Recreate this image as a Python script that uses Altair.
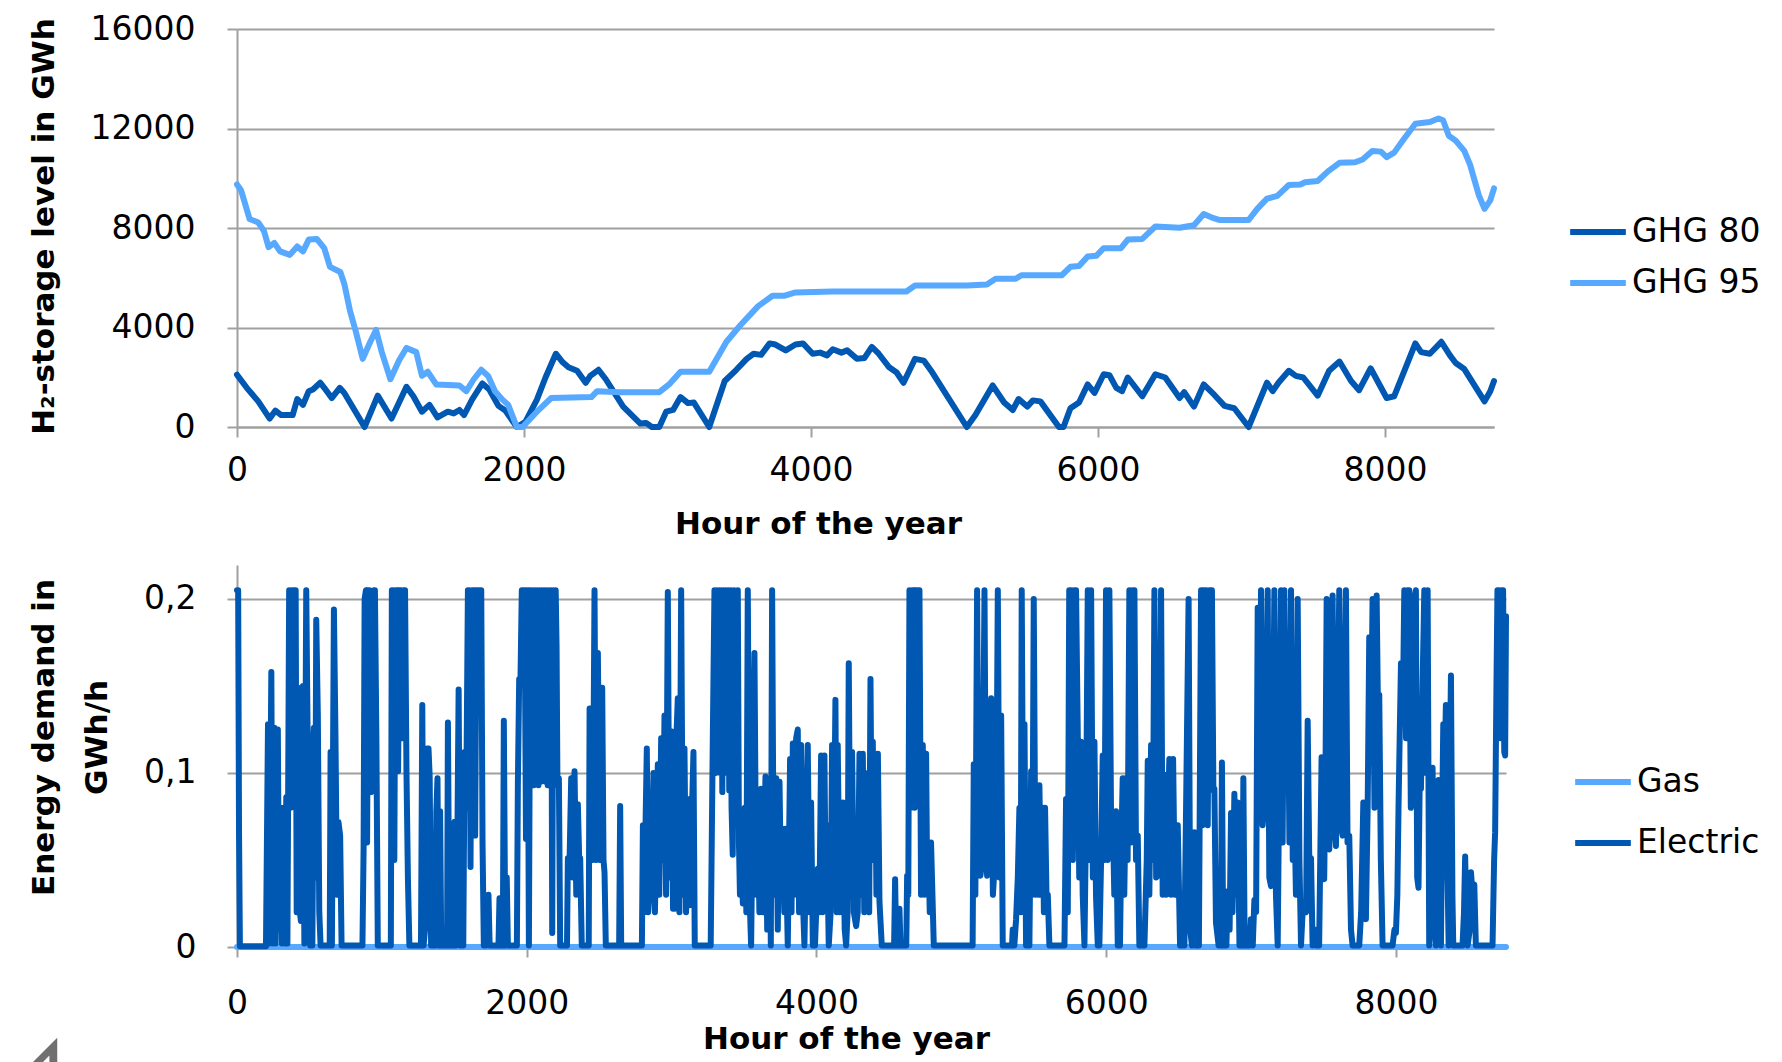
import altair as alt
import pandas as pd

# ---------------- data ----------------
x_ticks = [0, 2000, 4000, 6000, 8000]
top_y_ticks = [0, 4000, 8000, 12000, 16000]
bottom_y_ticks = [0, 0.1, 0.2]

top_series = ["GHG 80", "GHG 95"]
bottom_series = ["Gas", "Electric"]

ghg80_points = [
    (0, 2100), (68, 1575), (148, 1030), (228, 340), (268, 660), (308, 480), (388, 480),
    (420, 1125), (460, 890), (500, 1440), (529, 1510), (580, 1780), (608, 1575), (660, 1165),
    (716, 1575), (748, 1370), (889, 0), (981, 1260), (1077, 340), (1181, 1615), (1229, 1235),
    (1289, 616), (1341, 890), (1397, 384), (1469, 616), (1510, 548), (1550, 685), (1582, 480),
    (1638, 1100), (1710, 1750), (1758, 1510), (1822, 850), (1870, 660), (1950, 0), (2010, 205),
    (2090, 1100), (2150, 1990), (2222, 2945), (2270, 2600), (2310, 2400), (2370, 2260),
    (2430, 1780), (2462, 2055), (2519, 2300), (2570, 1920), (2691, 820), (2811, 137),
    (2851, 164), (2891, 0), (2943, 0), (2991, 616), (3039, 685), (3091, 1205), (3143, 960),
    (3183, 986), (3291, 0), (3399, 1850), (3480, 2300), (3552, 2740), (3600, 2945),
    (3652, 2900), (3712, 3360), (3752, 3315), (3824, 3080), (3892, 3315), (3944, 3360),
    (4012, 2945), (4064, 2990), (4112, 2880), (4152, 3125), (4212, 2990), (4252, 3080),
    (4320, 2740), (4372, 2770), (4424, 3220), (4472, 2945), (4545, 2400), (4597, 2190),
    (4645, 1780), (4685, 2260), (4725, 2740), (4786, 2670), (4846, 2190), (5086, 0),
    (5146, 480), (5266, 1670), (5346, 986), (5406, 685), (5447, 1125), (5507, 820),
    (5547, 1070), (5599, 1030), (5728, 0), (5760, 0), (5808, 755), (5868, 986), (5928, 1710),
    (5976, 1370), (6040, 2120), (6080, 2080), (6128, 1575), (6168, 1440), (6208, 1990),
    (6309, 1235), (6400, 2120), (6469, 1990), (6569, 1165), (6601, 1400), (6669, 820),
    (6737, 1710), (6810, 1300), (6882, 850), (6950, 755), (7050, 0), (7178, 1780),
    (7218, 1440), (7258, 1780), (7330, 2260), (7379, 2055), (7431, 1990), (7531, 1260),
    (7611, 2260), (7683, 2630), (7764, 1850), (7820, 1480), (7900, 2360), (8012, 1165),
    (8064, 1235), (8212, 3360), (8252, 3010), (8313, 2945), (8393, 3425), (8453, 2880),
    (8493, 2575), (8553, 2330), (8694, 1030), (8734, 1440), (8760, 1850),
]

ghg95_points = [
    (0, 9750), (28, 9520), (88, 8360), (148, 8220), (188, 7880), (220, 7230), (260, 7400),
    (300, 7060), (368, 6920), (420, 7260), (460, 7060), (500, 7535), (556, 7560), (608, 7190),
    (648, 6440), (720, 6230), (748, 5750), (788, 4660), (828, 3840), (876, 2740), (929, 3425),
    (969, 3900), (1009, 3010), (1069, 1920), (1129, 2670), (1181, 3180), (1249, 3010),
    (1289, 2055), (1329, 2220), (1389, 1710), (1550, 1670), (1598, 1440), (1650, 1920),
    (1702, 2300), (1750, 2055), (1798, 1440), (1850, 1100), (1890, 890), (1950, 0), (1990, 0),
    (2090, 616), (2190, 1165), (2470, 1205), (2510, 1440), (2670, 1400), (2943, 1400),
    (3011, 1710), (3091, 2220), (3291, 2220), (3411, 3425), (3511, 4110), (3632, 4860),
    (3732, 5275), (3812, 5275), (3892, 5410), (4152, 5450), (4665, 5450), (4725, 5690),
    (5086, 5690), (5226, 5730), (5287, 5960), (5427, 5960), (5467, 6100), (5748, 6100),
    (5808, 6440), (5868, 6470), (5928, 6850), (5988, 6880), (6040, 7190), (6160, 7190),
    (6208, 7535), (6309, 7560), (6400, 8060), (6569, 8010), (6669, 8110), (6737, 8560),
    (6790, 8430), (6850, 8320), (7050, 8320), (7110, 8770), (7178, 9180), (7250, 9290),
    (7330, 9730), (7411, 9750), (7443, 9840), (7531, 9890), (7603, 10275), (7683, 10620),
    (7792, 10645), (7844, 10755), (7912, 11100), (7972, 11070), (8012, 10850), (8064, 11030),
    (8132, 11580), (8212, 12190), (8313, 12260), (8373, 12400), (8405, 12330), (8445, 11710),
    (8493, 11510), (8553, 11100), (8593, 10550), (8654, 9320), (8694, 8770), (8734, 9110),
    (8760, 9590),
]

electric_points = [
    (0, 0.205), (8, 0.205), (14, 0.066), (20, 0.0004), (200, 0.0004), (214, 0.128), (222, 0.002),
    (237, 0.158), (246, 0.002), (258, 0.126), (266, 0.002), (282, 0.125), (290, 0.01), (300, 0.080),
    (310, 0.002), (325, 0.080), (333, 0.002), (340, 0.086), (348, 0.002), (360, 0.205), (370, 0.08),
    (382, 0.205), (395, 0.205), (405, 0.205), (412, 0.02), (421, 0.149), (432, 0.022), (441, 0.015),
    (455, 0.150), (465, 0.002), (478, 0.205), (487, 0.126), (497, 0.112), (505, 0.0009),
    (520, 0.0009), (531, 0.126), (540, 0.04), (547, 0.188), (558, 0.133), (568, 0.02),
    (577, 0.0009), (640, 0.0009), (646, 0.112), (655, 0.0009), (669, 0.194), (680, 0.119),
    (690, 0.03), (700, 0.072), (712, 0.064), (722, 0.0009), (866, 0.0009), (874, 0.057),
    (881, 0.200), (890, 0.205), (898, 0.06), (906, 0.205), (914, 0.205), (925, 0.089),
    (935, 0.12), (945, 0.205), (952, 0.205), (962, 0.122), (972, 0.0009), (1062, 0.0009),
    (1069, 0.205), (1078, 0.205), (1086, 0.05), (1094, 0.205), (1104, 0.205), (1112, 0.101),
    (1122, 0.205), (1134, 0.205), (1142, 0.12), (1150, 0.205), (1160, 0.205), (1170, 0.1),
    (1180, 0.039), (1190, 0.0009), (1270, 0.0009), (1279, 0.139), (1288, 0.0009), (1298, 0.01),
    (1312, 0.114), (1322, 0.114), (1330, 0.098), (1340, 0.0009), (1368, 0.0009), (1376, 0.078),
    (1384, 0.097), (1392, 0.0009), (1402, 0.078), (1410, 0.0009), (1450, 0.0009), (1456, 0.129),
    (1466, 0.0009), (1495, 0.0009), (1502, 0.072), (1510, 0.0009), (1520, 0.05), (1530, 0.148),
    (1540, 0.0009), (1562, 0.0009), (1571, 0.112), (1582, 0.080), (1594, 0.205), (1604, 0.205),
    (1612, 0.046), (1622, 0.205), (1634, 0.205), (1644, 0.064), (1654, 0.205), (1668, 0.205),
    (1686, 0.205), (1695, 0.059), (1704, 0.0009), (1712, 0.029), (1720, 0.0009), (1736, 0.030),
    (1744, 0.0009), (1805, 0.0009), (1812, 0.028), (1822, 0.0009), (1835, 0.0009), (1842, 0.130),
    (1852, 0.0009), (1862, 0.04), (1870, 0.0009), (1932, 0.0009), (1939, 0.095), (1948, 0.154),
    (1957, 0.154), (1966, 0.205), (1985, 0.205), (1995, 0.062), (2005, 0.205), (2015, 0.0009),
    (2025, 0.205), (2033, 0.095), (2041, 0.205), (2049, 0.093), (2057, 0.205), (2065, 0.1),
    (2073, 0.205), (2081, 0.093), (2089, 0.205), (2097, 0.095), (2105, 0.205), (2113, 0.1),
    (2121, 0.205), (2129, 0.095), (2137, 0.205), (2145, 0.093), (2153, 0.205), (2161, 0.1),
    (2169, 0.205), (2176, 0.008), (2184, 0.205), (2192, 0.1), (2200, 0.205), (2206, 0.173),
    (2212, 0.093), (2222, 0.097), (2231, 0.0009), (2278, 0.0009), (2284, 0.051), (2296, 0.051),
    (2307, 0.097), (2318, 0.04), (2330, 0.101), (2342, 0.03), (2353, 0.082), (2362, 0.051),
    (2369, 0.051), (2380, 0.0009), (2428, 0.0009), (2434, 0.137), (2445, 0.137), (2456, 0.05),
    (2468, 0.205), (2478, 0.05), (2491, 0.169), (2505, 0.05), (2521, 0.149), (2530, 0.05),
    (2537, 0.043), (2546, 0.0009), (2638, 0.0009), (2645, 0.081), (2652, 0.0009), (2795, 0.0009),
    (2802, 0.07), (2810, 0.02), (2829, 0.114), (2838, 0.02), (2848, 0.032), (2860, 0.03),
    (2875, 0.1), (2885, 0.02), (2905, 0.105), (2915, 0.03), (2928, 0.12), (2940, 0.05),
    (2951, 0.133), (2962, 0.03), (2974, 0.204), (2985, 0.04), (2997, 0.124), (3010, 0.022),
    (3020, 0.022), (3032, 0.118), (3043, 0.143), (3054, 0.02), (3066, 0.205), (3078, 0.03),
    (3089, 0.114), (3100, 0.02), (3112, 0.085), (3124, 0.024), (3151, 0.112), (3160, 0.0009),
    (3270, 0.0009), (3285, 0.124), (3296, 0.205), (3304, 0.1), (3312, 0.205), (3320, 0.12),
    (3328, 0.205), (3336, 0.1), (3344, 0.205), (3350, 0.089), (3358, 0.205), (3366, 0.11),
    (3374, 0.205), (3382, 0.1), (3390, 0.205), (3398, 0.09), (3406, 0.205), (3414, 0.08),
    (3422, 0.053), (3430, 0.205), (3440, 0.08), (3450, 0.07), (3457, 0.205), (3465, 0.06),
    (3472, 0.03), (3482, 0.05), (3492, 0.025), (3505, 0.08), (3516, 0.02), (3526, 0.205),
    (3538, 0.03), (3549, 0.0009), (3560, 0.08), (3572, 0.169), (3584, 0.03), (3595, 0.089),
    (3606, 0.02), (3618, 0.091), (3630, 0.02), (3648, 0.098), (3660, 0.01), (3676, 0.091),
    (3685, 0.0009), (3694, 0.205), (3705, 0.03), (3722, 0.097), (3733, 0.01), (3745, 0.095),
    (3756, 0.03), (3768, 0.068), (3778, 0.02), (3786, 0.068), (3802, 0.0009), (3818, 0.108),
    (3828, 0.02), (3837, 0.117), (3848, 0.03), (3860, 0.12), (3871, 0.125), (3880, 0.02),
    (3894, 0.116), (3905, 0.03), (3917, 0.0009), (3940, 0.116), (3952, 0.02), (3963, 0.083),
    (3975, 0.0009), (3990, 0.0009), (4009, 0.045), (4020, 0.02), (4032, 0.110), (4042, 0.02),
    (4055, 0.110), (4064, 0.03), (4071, 0.07), (4085, 0.0009), (4098, 0.02), (4108, 0.116),
    (4118, 0.03), (4131, 0.142), (4140, 0.02), (4147, 0.116), (4160, 0.02), (4182, 0.083),
    (4195, 0.01), (4205, 0.0009), (4215, 0.02), (4223, 0.163), (4234, 0.03), (4246, 0.112),
    (4258, 0.02), (4274, 0.012), (4285, 0.02), (4297, 0.111), (4308, 0.03), (4320, 0.111),
    (4330, 0.02), (4336, 0.10), (4345, 0.03), (4355, 0.032), (4364, 0.02), (4373, 0.154),
    (4382, 0.05), (4389, 0.118), (4398, 0.05), (4405, 0.111), (4414, 0.03), (4424, 0.111),
    (4435, 0.026), (4451, 0.0009), (4536, 0.0009), (4543, 0.039), (4550, 0.0009), (4557, 0.022),
    (4564, 0.0009), (4573, 0.022), (4580, 0.0009), (4620, 0.0009), (4626, 0.041), (4634, 0.03),
    (4642, 0.205), (4650, 0.08), (4660, 0.205), (4670, 0.205), (4678, 0.08), (4688, 0.205),
    (4700, 0.205), (4711, 0.205), (4722, 0.03), (4734, 0.116), (4745, 0.03), (4757, 0.111),
    (4765, 0.03), (4773, 0.06), (4782, 0.02), (4791, 0.06), (4810, 0.0009), (5078, 0.0009),
    (5086, 0.105), (5097, 0.03), (5109, 0.205), (5120, 0.05), (5132, 0.041), (5145, 0.05),
    (5160, 0.205), (5170, 0.06), (5178, 0.041), (5190, 0.05), (5206, 0.143), (5218, 0.03),
    (5229, 0.045), (5240, 0.05), (5252, 0.205), (5263, 0.04), (5275, 0.133), (5286, 0.0009),
    (5350, 0.0009), (5355, 0.01), (5366, 0.0009), (5378, 0.016), (5390, 0.04), (5401, 0.080),
    (5410, 0.02), (5417, 0.205), (5428, 0.03), (5436, 0.128), (5447, 0.0009), (5470, 0.0009),
    (5482, 0.101), (5490, 0.03), (5500, 0.200), (5512, 0.03), (5523, 0.093), (5532, 0.03),
    (5539, 0.093), (5550, 0.03), (5562, 0.080), (5570, 0.02), (5578, 0.080), (5590, 0.02),
    (5597, 0.030), (5608, 0.0009), (5712, 0.0009), (5723, 0.085), (5735, 0.02), (5745, 0.205),
    (5757, 0.205), (5770, 0.05), (5780, 0.205), (5792, 0.205), (5803, 0.129), (5814, 0.04),
    (5826, 0.118), (5838, 0.03), (5850, 0.0009), (5862, 0.08), (5873, 0.205), (5884, 0.05),
    (5896, 0.205), (5908, 0.04), (5919, 0.118), (5930, 0.029), (5942, 0.0009), (5953, 0.0009),
    (5965, 0.05), (5976, 0.110), (5988, 0.05), (5999, 0.205), (6010, 0.05), (6022, 0.205),
    (6034, 0.07), (6045, 0.078), (6056, 0.03), (6068, 0.078), (6080, 0.0009), (6095, 0.0009),
    (6105, 0.06), (6114, 0.097), (6125, 0.03), (6137, 0.097), (6148, 0.05), (6160, 0.205),
    (6172, 0.06), (6183, 0.205), (6195, 0.205), (6206, 0.05), (6218, 0.064), (6229, 0.0009),
    (6264, 0.0009), (6280, 0.05), (6287, 0.107), (6298, 0.03), (6310, 0.116), (6322, 0.05),
    (6333, 0.205), (6345, 0.04), (6356, 0.041), (6367, 0.05), (6379, 0.205), (6390, 0.03),
    (6402, 0.099), (6414, 0.03), (6436, 0.108), (6448, 0.03), (6462, 0.108), (6474, 0.03),
    (6494, 0.07), (6510, 0.0009), (6540, 0.0009), (6569, 0.200), (6580, 0.01), (6592, 0.0009),
    (6609, 0.066), (6618, 0.0009), (6640, 0.0009), (6655, 0.205), (6665, 0.07), (6675, 0.205),
    (6689, 0.205), (6701, 0.07), (6712, 0.205), (6722, 0.205), (6730, 0.205), (6740, 0.09),
    (6747, 0.091), (6758, 0.014), (6776, 0.0009), (6792, 0.0009), (6799, 0.106), (6808, 0.0009),
    (6830, 0.0009), (6839, 0.032), (6852, 0.01), (6862, 0.077), (6872, 0.02), (6885, 0.088),
    (6896, 0.03), (6908, 0.083), (6920, 0.0009), (6940, 0.0009), (6947, 0.097), (6956, 0.0009),
    (6990, 0.0009), (6999, 0.016), (7012, 0.0009), (7023, 0.027), (7035, 0.02), (7046, 0.195),
    (7058, 0.08), (7069, 0.205), (7080, 0.07), (7092, 0.081), (7102, 0.1), (7115, 0.205),
    (7126, 0.04), (7138, 0.035), (7150, 0.1), (7161, 0.205), (7172, 0.03), (7184, 0.0009),
    (7195, 0.1), (7207, 0.205), (7218, 0.06), (7230, 0.205), (7242, 0.1), (7253, 0.169),
    (7265, 0.06), (7276, 0.205), (7288, 0.05), (7299, 0.08), (7310, 0.03), (7322, 0.2),
    (7334, 0.05), (7345, 0.0009), (7356, 0.02), (7368, 0.022), (7380, 0.02), (7391, 0.13),
    (7402, 0.05), (7414, 0.051), (7425, 0.0009), (7440, 0.01), (7448, 0.0009), (7470, 0.0009),
    (7487, 0.109), (7496, 0.04), (7505, 0.039), (7514, 0.1), (7522, 0.2), (7531, 0.06),
    (7540, 0.056), (7550, 0.12), (7563, 0.202), (7575, 0.07), (7586, 0.058), (7597, 0.12),
    (7609, 0.205), (7620, 0.07), (7632, 0.064), (7644, 0.12), (7655, 0.205), (7666, 0.06),
    (7678, 0.064), (7690, 0.01), (7701, 0.0009), (7747, 0.0009), (7760, 0.02), (7775, 0.083),
    (7785, 0.02), (7793, 0.016), (7805, 0.08), (7816, 0.178), (7828, 0.12), (7839, 0.2),
    (7852, 0.08), (7867, 0.202), (7877, 0.13), (7885, 0.145), (7896, 0.05), (7908, 0.0009),
    (7977, 0.0009), (7990, 0.01), (8000, 0.008), (8010, 0.03), (8018, 0.08), (8026, 0.12),
    (8035, 0.163), (8047, 0.13), (8058, 0.205), (8070, 0.12), (8080, 0.205), (8092, 0.205),
    (8103, 0.08), (8115, 0.1), (8127, 0.2), (8138, 0.205), (8147, 0.04), (8156, 0.034),
    (8165, 0.1), (8173, 0.091), (8184, 0.15), (8196, 0.205), (8207, 0.1), (8219, 0.205),
    (8230, 0.0009), (8242, 0.02), (8253, 0.103), (8265, 0.02), (8276, 0.0009), (8286, 0.05),
    (8294, 0.096), (8303, 0.02), (8311, 0.0009), (8320, 0.08), (8327, 0.128), (8336, 0.1),
    (8345, 0.139), (8355, 0.05), (8364, 0.0009), (8372, 0.1), (8380, 0.156), (8390, 0.03),
    (8396, 0.0009), (8460, 0.0009), (8470, 0.02), (8478, 0.052), (8486, 0.02), (8495, 0.0009),
    (8510, 0.01), (8518, 0.043), (8530, 0.03), (8541, 0.036), (8552, 0.0009), (8667, 0.0009),
    (8678, 0.05), (8685, 0.066), (8694, 0.15), (8701, 0.205), (8712, 0.205), (8722, 0.12),
    (8730, 0.205), (8740, 0.205), (8748, 0.112), (8754, 0.11), (8760, 0.19),
]

gas_points = [(0, 0.0), (2000, 0.0), (4000, 0.0), (6000, 0.0), (8760, 0.0)]

# ---------------- styling ----------------
DARK = "#0058B3"
LIGHT = "#57A9FF"
GRID = "#A0A0A0"
FONT = "DejaVu Sans"
CORNER_SHAPE = "M1,-1L1,1L-1,1Z M0.36,0.45L-0.18,1L0.36,1Z"


def frame(points, name, field):
    return pd.DataFrame({
        "hour": [p[0] for p in points],
        field: [p[1] for p in points],
        "series": name,
        "idx": list(range(len(points))),
    })


df80 = frame(ghg80_points, top_series[0], "level")
df95 = frame(ghg95_points, top_series[1], "level")
dfgas = frame(gas_points, bottom_series[0], "demand")
dfel = frame(electric_points, bottom_series[1], "demand")

line_style = dict(strokeWidth=6, strokeJoin="round", strokeCap="round")

legend_common = dict(
    title=None, orient="none", symbolType="stroke", symbolSize=3100,
    symbolStrokeWidth=6, labelFont=FONT, labelFontSize=33, labelColor="black",
    labelOffset=3, padding=0,
)

# ---------------- top panel ----------------
x_top = alt.X("hour:Q", scale=alt.Scale(domain=[0, 8760], nice=False, zero=False),
              axis=alt.Axis(values=x_ticks, format="d", title="Hour of the year", grid=False,
                            tickSize=10, labelPadding=17, labelFlush=False,
                            titleX=581, titleY=106, titleBaseline="alphabetic",
                            titleAlign="center"))
y_top = alt.Y("level:Q", scale=alt.Scale(domain=[0, 16000], nice=False),
              axis=alt.Axis(values=top_y_ticks, format="d", title="H₂-storage level in GWh",
                            tickSize=10, labelPadding=32, labelFlush=False,
                            titleAngle=270, titleX=-184, titleY=197,
                            titleBaseline="alphabetic", titleAlign="center"))
color_top = alt.Color("series:N", scale=alt.Scale(domain=top_series, range=[DARK, LIGHT]),
                      legend=alt.Legend(legendX=1330, legendY=172, rowPadding=3, **legend_common))

top = alt.layer(
    alt.Chart(df80).mark_line(**line_style).encode(x=x_top, y=y_top, color=color_top, order="idx:Q"),
    alt.Chart(df95).mark_line(**line_style).encode(x=x_top, y=y_top, color=color_top, order="idx:Q"),
).properties(width=1257, height=398)

# ---------------- bottom panel ----------------
x_bot = alt.X("hour:Q", scale=alt.Scale(domain=[0, 8760], nice=False, zero=False),
              axis=alt.Axis(values=x_ticks, format="d", title="Hour of the year", grid=False,
                            tickSize=10, labelPadding=30, labelFlush=False,
                            titleX=609, titleY=101, titleBaseline="alphabetic",
                            titleAlign="center"))
y_bot = alt.Y("demand:Q", scale=alt.Scale(domain=[0, 0.2195], nice=False),
              axis=alt.Axis(values=bottom_y_ticks, title=["Energy demand in", "GWh/h"],
                            labelExpr="datum.value == 0 ? '0' : replace(format(datum.value, '.1f'), '.', ',')",
                            tickSize=10, labelPadding=31, labelFlush=False,
                            titleAngle=270, titleX=-184, titleY=172, titleLineHeight=53,
                            titleBaseline="alphabetic", titleAlign="center"))
color_bot = alt.Color("series:N", scale=alt.Scale(domain=bottom_series, range=[LIGHT, DARK]),
                      legend=alt.Legend(legendX=1335, legendY=186, rowPadding=13, **legend_common))

# small grey corner glyph visible at the bottom-left edge of the reference picture
corner = alt.Chart(dfgas.head(1)).mark_point(
    shape=CORNER_SHAPE, filled=True, fill="#707070", opacity=1, strokeWidth=0, size=600
).encode(x=alt.value(-192), y=alt.value(485))

bottom = alt.layer(
    alt.Chart(dfgas).mark_line(**line_style).encode(x=x_bot, y=y_bot, color=color_bot, order="idx:Q"),
    alt.Chart(dfel).mark_line(**line_style).encode(x=x_bot, y=y_bot, color=color_bot, order="idx:Q"),
    corner,
).properties(width=1269, height=382)

chart = alt.vconcat(top, bottom, spacing=26).resolve_scale(
    x="independent", y="independent", color="independent"
).resolve_legend(color="independent").properties(
    padding={"left": 20, "top": 5, "right": 5, "bottom": 5}
).configure_axis(
    labelFont=FONT, labelFontSize=33, labelColor="black",
    titleFont=FONT, titleFontSize=31, titleFontWeight="bold", titleColor="black",
    gridColor=GRID, gridWidth=2, domainColor=GRID, domainWidth=2,
    tickColor=GRID, tickWidth=2, labelOverlap=False,
).configure_view(strokeWidth=0)

chart.save("out.html", embed_options={"renderer": "svg", "actions": False})
